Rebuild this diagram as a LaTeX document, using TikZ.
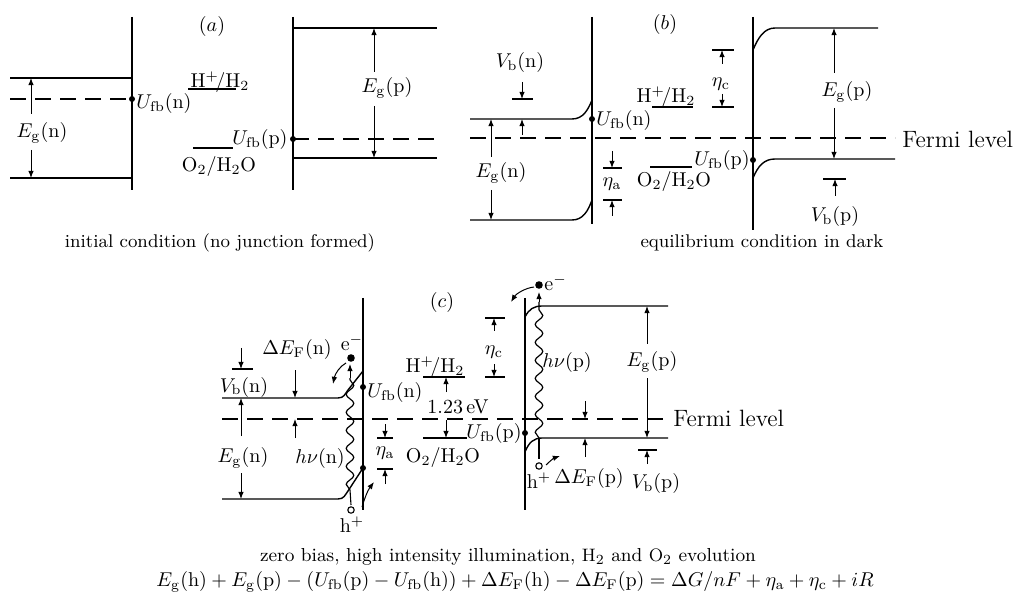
\documentclass[tikz,border=0pt]{standalone}
\usepackage{amsmath}
\usetikzlibrary{arrows.meta,decorations.pathmorphing}
\newcommand{\rmx}[1]{\mathrm{#1}}
\begin{document}
\begin{tikzpicture}[x=0.5pt,y=-0.5pt,
 band/.style={line width=0.7pt},
 surf/.style={line width=0.9pt},
 fermi/.style={line width=0.6pt, dash pattern=on 8pt off 4.5pt},
 tline/.style={line width=0.55pt},
 arr/.style={line width=0.5pt, -{Latex[length=3.6pt,width=2.8pt]}},
 lbl/.style={inner sep=0pt, font=\fontsize{10}{12}\selectfont},
 captxt/.style={inner sep=0pt, font=\fontsize{9.2}{11}\selectfont},
 btxt/.style={inner sep=0pt, font=\fontsize{9.4}{11}\selectfont},
 fermilbl/.style={inner sep=0pt, anchor=west, font=\fontsize{11.8}{14}\selectfont},
 wavy/.style={line width=0.6pt, decorate, decoration={snake, amplitude=1.9pt, segment length=9pt}},
 dotfill/.style={fill=black},
]
\useasboundingbox (0,0) rectangle (1016,598);

% ================= panel (a) =================
\draw[band] (10,78) -- (132,78);
\draw[fermi] (10,99) -- (132,99);
\draw[band] (10,178) -- (132,178);
\draw[surf] (132,17) -- (132,190);
\fill[dotfill] (132,99) circle (1.5pt);
\node[lbl] (egna) at (42,133) {$E_{\rmx g}(\rmx n)$};
\draw[arr] (31,114) -- (31,78);
\draw[arr] (31,150) -- (31,178);
\node[lbl, anchor=west] (ufbna) at (136,104) {$U_{\rmx{fb}}(\rmx n)$};
\node[lbl] (labela) at (212,27) {$(a)$};
\node[lbl] (hha) at (220,82) {$\rmx H^{+}\!/\rmx H_2$};
\draw[tline] (188,89) -- (236,89);
\draw[tline] (193,148) -- (233,148);
\node[lbl, anchor=west] (ufbpa) at (232,140) {$U_{\rmx{fb}}(\rmx p)$};
\node[lbl] (ooa) at (219,167) {$\rmx O_2/\rmx H_2\rmx O$};
\draw[surf] (293,17) -- (293,190);
\draw[band] (293,28) -- (437,28);
\draw[fermi] (293,139) -- (437,139);
\draw[band] (293,158) -- (437,158);
\fill[dotfill] (293,139) circle (1.5pt);
\node[lbl] (egpa) at (387,88) {$E_{\rmx g}(\rmx p)$};
\draw[arr] (374,72) -- (374,28);
\draw[arr] (374,106) -- (374,158);
\node[captxt] (capa) at (220,243) {initial condition (no junction formed)};

% ================= panel (b) =================
\draw[band] (470,119) -- (572,119) .. controls (583,119) and (588,110) .. (592,100);
\draw[band] (470,220) -- (572,220) .. controls (583,220) and (588,211) .. (592,200);
\draw[fermi] (470,138) -- (895,138);
\draw[surf] (592,17) -- (592,224);
\fill[dotfill] (592,119) circle (1.5pt);
\node[lbl, anchor=west] (ufbnb) at (596,121) {$U_{\rmx{fb}}(\rmx n)$};
\node[lbl] (vbnb) at (520,63) {$V_{\rmx b}(\rmx n)$};
\draw[tline] (512,99) -- (533,99);
\draw[arr] (522,82) -- (522,99);
\draw[arr] (522,135) -- (522,119);
\node[lbl] (egnb) at (501,173) {$E_{\rmx g}(\rmx n)$};
\draw[arr] (491,157) -- (491,119);
\draw[arr] (491,190) -- (491,220);
\node[lbl] (labelb) at (665,25) {$(b)$};
\draw[tline] (712,50) -- (734,50);
\draw[tline] (712,107) -- (734,107);
\draw[arr] (722,64) -- (722,50);
\draw[arr] (722,94) -- (722,107);
\node[lbl] (etacb) at (721,84) {$\eta_{\rmx c}$};
\node[lbl] (hhb) at (666,97) {$\rmx H^{+}\!/\rmx H_2$};
\draw[tline] (652,107) -- (693,107);
\draw[tline] (603,168) -- (622,168);
\draw[tline] (603,200) -- (622,200);
\draw[arr] (612,151) -- (612,168);
\draw[arr] (612,216) -- (612,200);
\node[lbl] (etaab) at (612,184) {$\eta_{\rmx a}$};
\draw[tline] (650,167) -- (692,167);
\node[lbl] (oob) at (674,182) {$\rmx O_2/\rmx H_2\rmx O$};
\node[lbl, anchor=east] (ufbpb) at (750,161) {$U_{\rmx{fb}}(\rmx p)$};
\draw[surf] (753,17) -- (753,230);
\fill[dotfill] (753,160) circle (1.5pt);
\draw[band] (753,50) .. controls (758,38) and (764,28) .. (775,28) -- (878,28);
\draw[band] (753,178) .. controls (758,166) and (764,159) .. (775,159) -- (895,159);
\node[lbl] (egpb) at (847,92) {$E_{\rmx g}(\rmx p)$};
\draw[arr] (834,73) -- (834,28);
\draw[arr] (834,108) -- (834,159);
\draw[tline] (823,179) -- (846,179);
\draw[arr] (835,196) -- (835,179);
\node[lbl] (vbpb) at (835,217) {$V_{\rmx b}(\rmx p)$};
\node[fermilbl] (fermib) at (902,139) {Fermi level};
\node[captxt] (capb) at (762,243) {equilibrium condition in dark};

% ================= panel (c) =================
\draw[band] (222,398) -- (338,398) .. controls (344,398) and (345,394) .. (348,390) -- (363,371);
\draw[band] (222,499) -- (338,499) .. controls (344,499) and (345,495) .. (348,491) -- (363,468);
\draw[fermi] (222,419) -- (668,419);
\draw[surf] (363,298) -- (363,510);
\fill[dotfill] (363,387) circle (1.5pt);
\fill[dotfill] (363,468) circle (1.5pt);
\node[lbl] (labelc) at (442,303) {$(c)$};
% n side carriers
\draw[wavy] (350,490) -- (350,378);
\draw[arr] (350,378) -- (350,364);
\draw[tline] (350,490) -- (351,505);
\fill[dotfill] (351,358) circle (1.9pt);
\node[lbl] (en) at (352,343) {e$^-$};
\draw[arr] (346,363) .. controls (340,366) and (335,374) .. (333,384);
\draw[tline] (351,510) circle (1.6pt);
\node[lbl] (hn) at (352,525) {h$^+$};
\draw[arr] (362,507) .. controls (365,497) and (368,490) .. (374,482);
% n labels
\node[lbl] (dEFn) at (297,350) {$\Delta E_{\rmx F}(\rmx n)$};
\draw[arr] (295,370) -- (295,398);
\draw[arr] (295,438) -- (295,419);
\draw[tline] (232,369) -- (253,369);
\draw[arr] (241,348) -- (241,369);
\node[lbl] (vbnc) at (244,387) {$V_{\rmx b}(\rmx n)$};
\draw[arr] (241,436) -- (241,398);
\draw[arr] (241,473) -- (241,499);
\node[lbl] (egnc) at (243,458) {$E_{\rmx g}(\rmx n)$};
\node[lbl] (hvn) at (320,458) {$h\nu(\rmx n)$};
\draw[tline] (377,438) -- (393,438);
\draw[tline] (377,469) -- (393,469);
\draw[arr] (385,424) -- (385,438);
\draw[arr] (385,484) -- (385,469);
\node[lbl] (etaac) at (385,453) {$\eta_{\rmx a}$};
\node[lbl, anchor=west] (ufbnc) at (367,392) {$U_{\rmx{fb}}(\rmx n)$};
\node[lbl] (hhc) at (435,367) {$\rmx H^{+}\!/\rmx H_2$};
\draw[tline] (423,377) -- (465,377);
\draw[arr] (446,392) -- (446,377);
\node[lbl] (eV) at (458,407) {1.23\,eV};
\draw[arr] (446,420) -- (446,438);
\draw[tline] (423,438) -- (467,438);
\node[lbl] (ooc) at (443,457) {$\rmx O_2/\rmx H_2\rmx O$};
\node[lbl, anchor=east] (ufbpc) at (522,433) {$U_{\rmx{fb}}(\rmx p)$};
% p side
\draw[surf] (525,298) -- (525,510);
\fill[dotfill] (525,433) circle (1.5pt);
\draw[band] (525,317) .. controls (529,309) and (534,306) .. (542,306) -- (668,306);
\draw[band] (525,452) .. controls (529,442) and (534,438) .. (542,438) -- (668,438);
\draw[wavy] (539,438) -- (539,302);
\draw[arr] (539,302) -- (539,292);
\draw[tline] (539,438) -- (539,459);
\fill[dotfill] (539,285) circle (1.9pt);
\node[lbl, anchor=west] (ep) at (544,283) {e$^-$};
\draw[arr] (534,287) .. controls (525,288) and (516,294) .. (511,302);
\draw[tline] (539,466) circle (1.6pt);
\node[lbl] (hp) at (539,481) {h$^+$};
\draw[arr] (546,465) .. controls (550,461) and (554,458) .. (560,456);
\node[lbl] (hvp) at (567,362) {$h\nu(\rmx p)$};
\draw[tline] (485,318) -- (505,318);
\draw[tline] (485,377) -- (505,377);
\draw[arr] (494,331) -- (494,318);
\draw[arr] (494,364) -- (494,377);
\node[lbl] (etacc) at (494,352) {$\eta_{\rmx c}$};
\node[lbl] (egpc) at (652,362) {$E_{\rmx g}(\rmx p)$};
\draw[arr] (647,344) -- (647,306);
\draw[arr] (647,378) -- (647,438);
\draw[arr] (585,401) -- (585,419);
\draw[arr] (585,457) -- (585,438);
\node[lbl] (dEFp) at (589,478) {$\Delta E_{\rmx F}(\rmx p)$};
\draw[tline] (638,450) -- (657,450);
\draw[arr] (647,464) -- (647,450);
\node[lbl] (vbpc) at (656,483) {$V_{\rmx b}(\rmx p)$};
\node[fermilbl] (fermic) at (673,418) {Fermi level};

% ================= bottom text =================
\node[btxt] (capc) at (508,557) {zero bias, high intensity illumination, $\rmx H_2$ and $\rmx O_2$ evolution};
\node[lbl] (eq) at (515,582) {$E_{\rmx g}(\rmx h)+E_{\rmx g}(\rmx p)-(U_{\rmx{fb}}(\rmx p)-U_{\rmx{fb}}(\rmx h))+\Delta E_{\rmx F}(\rmx h)-\Delta E_{\rmx F}(\rmx p) = \Delta G/nF+\eta_{\rmx a}+\eta_{\rmx c}+iR$};
\end{tikzpicture}
\end{document}
